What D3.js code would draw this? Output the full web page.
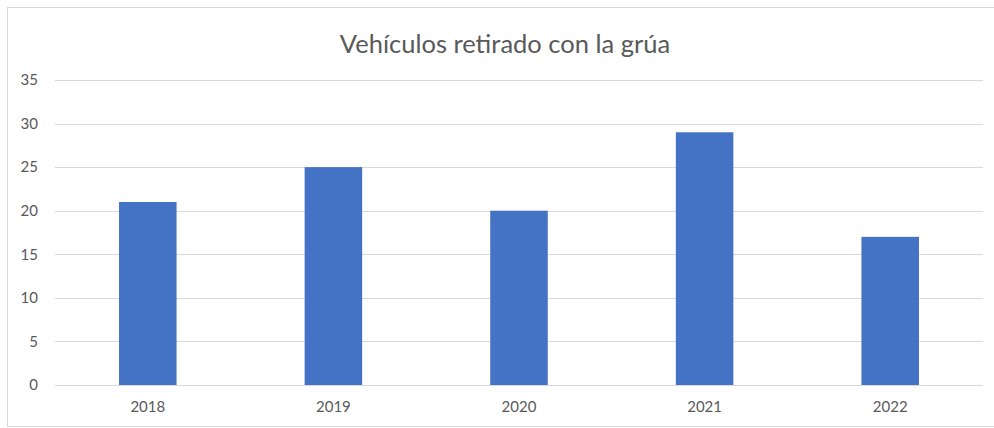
<!DOCTYPE html>
<html>
<head>
<meta charset="utf-8">
<script src="https://cdn.jsdelivr.net/npm/d3@7"></script>
<style>
  body { margin: 0; background: #fff; }
  svg { display: block; font-family: Lato, "Open Sans", sans-serif; }
</style>
</head>
<body>
<div id="chart"></div>
<script>
// Data
const years = ["2018", "2019", "2020", "2021", "2022"];
const values = [21, 25, 20, 29, 17];
const yTicks = [0, 5, 10, 15, 20, 25, 30, 35];

const width = 994;
const height = 428;
const margin = { top: 80, right: 11, bottom: 43, left: 55 };

const svg = d3.select("#chart")
    .append("svg")
    .attr("width", width)
    .attr("height", height);

// Chart frame
svg.append("rect")
    .attr("x", 7.5)
    .attr("y", 7.5)
    .attr("width", width + 10)
    .attr("height", height - 9)
    .attr("fill", "none")
    .attr("stroke", "#d9d9d9")
    .attr("stroke-width", 1);

const x = d3.scaleBand()
    .domain(years)
    .range([margin.left, width - margin.right])
    .paddingInner(0.69)
    .paddingOuter(0.345);

const y = d3.scaleLinear()
    .domain([0, 35])
    .range([height - margin.bottom, margin.top]);

// Gridlines
svg.append("g")
    .selectAll("line")
    .data(yTicks)
    .enter()
    .append("line")
    .attr("x1", margin.left)
    .attr("x2", width - margin.right)
    .attr("y1", d => Math.round(y(d)) + 0.5)
    .attr("y2", d => Math.round(y(d)) + 0.5)
    .attr("stroke", "#d9d9d9")
    .attr("stroke-width", 1);

// Y axis labels
const yAxis = d3.axisLeft(y).tickValues(yTicks).tickSize(0).tickPadding(0);
svg.append("g")
    .attr("transform", `translate(${margin.left - 17},0)`)
    .call(yAxis)
    .call(g => g.select(".domain").remove())
    .selectAll("text")
    .attr("font-size", "15px")
    .attr("font-family", "Lato, 'Open Sans', sans-serif")
    .attr("fill", "#595959");

// Bars
svg.append("g")
    .selectAll("rect")
    .data(values)
    .enter()
    .append("rect")
    .attr("x", (d, i) => x(years[i]))
    .attr("y", d => y(d))
    .attr("width", x.bandwidth())
    .attr("height", d => y(0) - y(d))
    .attr("fill", "#4472c4");

// X axis labels
const xAxis = d3.axisBottom(x).tickSize(0).tickPadding(16);
svg.append("g")
    .attr("transform", `translate(0,${y(0)})`)
    .call(xAxis)
    .call(g => g.select(".domain").remove())
    .selectAll("text")
    .attr("font-size", "15px")
    .attr("font-family", "Lato, 'Open Sans', sans-serif")
    .attr("fill", "#595959");

// Title
svg.append("text")
    .attr("x", (margin.left + width - margin.right) / 2 - 14)
    .attr("y", 53)
    .attr("text-anchor", "middle")
    .attr("font-size", "25.5px")
    .attr("fill", "#595959")
    .text("Vehículos retirado con la grúa");
</script>
</body>
</html>
